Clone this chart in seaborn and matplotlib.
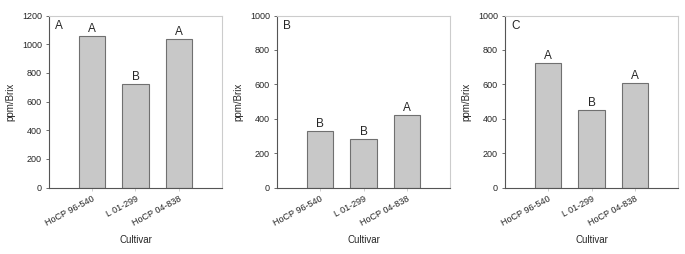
import matplotlib
matplotlib.use("Agg")
import matplotlib.pyplot as plt
import seaborn as sns
import pandas as pd

# cultivars and ppm/Brix values per panel
cultivars = ["HoCP 96-540", "L 01-299", "HoCP 04-838"]
panel_ids = ["A", "B", "C"]
values_a = [1060, 725, 1035]
values_b = [330, 280, 420]
values_c = [725, 450, 610]
letters_a = ["A", "B", "A"]
letters_b = ["B", "B", "A"]
letters_c = ["A", "B", "A"]
ymax = [1200, 1000, 1000]

sns.set_style("white")
plt.rcParams['font.family'] = ['Liberation Sans', 'DejaVu Sans']

fig = plt.figure(figsize=(6.85, 2.54), dpi=100)
lefts = [49, 277, 505]
W, H = 685, 254

panels = [(values_a, letters_a), (values_b, letters_b), (values_c, letters_c)]
for i, (vals, lets) in enumerate(panels):
    ax = fig.add_axes([lefts[i] / W, 1 - 187.5 / H, 173 / W, 172 / H])
    df = pd.DataFrame({"pos": [1, 2, 3], "val": vals})
    ax.bar(df["pos"], df["val"], width=0.61, color="#c8c8c8",
           edgecolor="#707070", linewidth=0.8)
    ax.set_xlim(0, 4)
    ax.set_ylim(0, ymax[i])
    ax.set_yticks(range(0, ymax[i] + 1, 200))
    ax.set_xticks([1, 2, 3])
    ax.set_xticklabels(cultivars, rotation=28, ha="right",
                       rotation_mode="anchor", fontsize=6.5)
    ax.tick_params(axis="y", labelsize=6.5, length=2.5, width=0.6,
                   color="#555555", pad=2.5, left=True)
    ax.tick_params(axis="x", length=2, width=0.5, color="#bbbbbb",
                   pad=3, bottom=True)
    for s in ["left", "bottom"]:
        ax.spines[s].set_color("#555555")
        ax.spines[s].set_linewidth(0.8)
    for s in ["top", "right"]:
        ax.spines[s].set_color("#cccccc")
        ax.spines[s].set_linewidth(0.8)
    ax.set_ylabel("ppm/Brix", fontsize=7, labelpad=5)
    ax.set_xlabel("Cultivar", fontsize=7)
    ax.xaxis.set_label_coords(0.5, -0.275)
    for p, v, l in zip(df["pos"], df["val"], lets):
        ax.text(p, v + ymax[i] * 0.005, l, ha="center", va="bottom", fontsize=8.5)
    ax.text(0.035, 0.975, panel_ids[i], transform=ax.transAxes,
            ha="left", va="top", fontsize=8.5)

fig.savefig("out.png", dpi=100, facecolor="white")
